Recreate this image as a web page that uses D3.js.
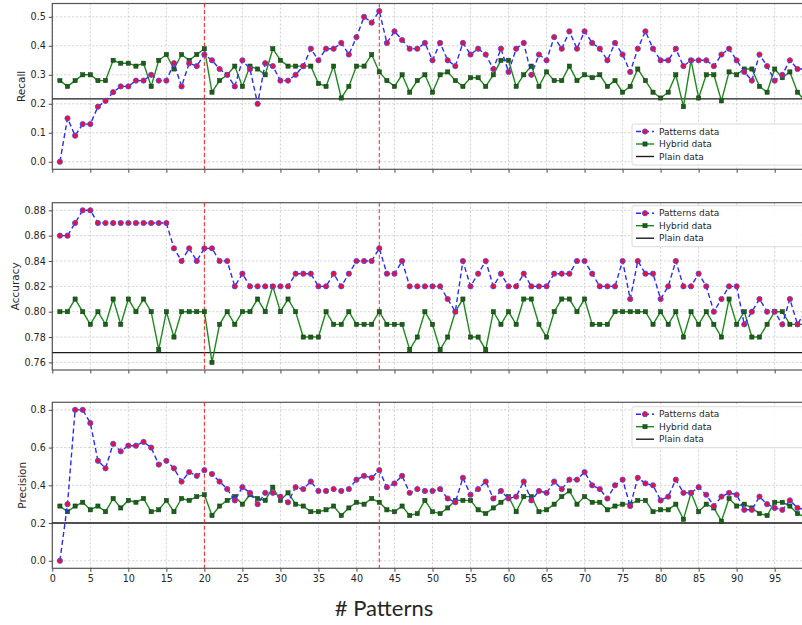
<!DOCTYPE html>
<html>
<head>
<meta charset="utf-8">
<script src="https://cdnjs.cloudflare.com/ajax/libs/d3/7.8.5/d3.min.js"></script>
<style>
  body { margin: 0; background: #fff; }
  svg text { font-family: "DejaVu Sans", sans-serif; fill: #262626; }
</style>
</head>
<body>
<div id="chart"></div>
<script>
// number of patterns on the x axis
var patterns = d3.range(1, 100);
var xTicks = d3.range(0, 100, 5);
var markerLines = [20, 43];
var seriesNames = ["Patterns data", "Hybrid data", "Plain data"];

// Recall
var recallPatterns = [0.00,0.15,0.09,0.13,0.13,0.19,0.21,0.24,0.26,0.26,
  0.28,0.28,0.30,0.28,0.28,0.34,0.26,0.34,0.33,0.37,
  0.35,0.32,0.30,0.26,0.35,0.32,0.20,0.34,0.33,0.28,
  0.28,0.30,0.33,0.39,0.35,0.39,0.39,0.41,0.37,0.43,
  0.50,0.48,0.52,0.41,0.45,0.42,0.39,0.39,0.41,0.35,
  0.41,0.35,0.33,0.41,0.37,0.39,0.37,0.32,0.39,0.31,
  0.39,0.41,0.30,0.37,0.35,0.43,0.39,0.45,0.39,0.45,
  0.41,0.39,0.35,0.41,0.37,0.31,0.39,0.45,0.39,0.35,
  0.35,0.39,0.33,0.35,0.35,0.35,0.33,0.37,0.39,0.35,
  0.31,0.28,0.37,0.33,0.28,0.30,0.35,0.32,0.32];
var recallHybrid = [0.28,0.26,0.28,0.30,0.30,0.28,0.28,0.35,0.34,0.34,
  0.33,0.34,0.26,0.35,0.37,0.32,0.37,0.35,0.37,0.39,
  0.24,0.28,0.30,0.33,0.26,0.33,0.32,0.30,0.39,0.35,
  0.33,0.33,0.33,0.33,0.27,0.26,0.33,0.22,0.26,0.33,
  0.33,0.37,0.31,0.28,0.26,0.30,0.24,0.28,0.30,0.24,
  0.30,0.31,0.28,0.26,0.29,0.29,0.26,0.30,0.35,0.35,
  0.26,0.30,0.33,0.26,0.31,0.28,0.28,0.33,0.28,0.30,
  0.29,0.30,0.26,0.28,0.24,0.26,0.32,0.28,0.24,0.22,
  0.24,0.30,0.19,0.35,0.22,0.30,0.30,0.21,0.31,0.30,
  0.32,0.32,0.26,0.24,0.32,0.29,0.31,0.24,0.21];
var recallPlain = 0.217;
var recallTicks = [0.0, 0.1, 0.2, 0.3, 0.4, 0.5];

// Accuracy
var accuracyPatterns = [0.86,0.86,0.87,0.88,0.88,0.87,0.87,0.87,0.87,0.87,
  0.87,0.87,0.87,0.87,0.87,0.85,0.84,0.85,0.84,0.85,
  0.85,0.84,0.84,0.82,0.83,0.82,0.82,0.82,0.82,0.82,
  0.82,0.83,0.83,0.83,0.82,0.82,0.83,0.82,0.83,0.84,
  0.84,0.84,0.85,0.83,0.83,0.84,0.82,0.82,0.82,0.82,
  0.82,0.81,0.80,0.84,0.82,0.83,0.84,0.82,0.83,0.82,
  0.82,0.83,0.82,0.82,0.82,0.83,0.83,0.83,0.84,0.84,
  0.83,0.82,0.82,0.82,0.84,0.81,0.84,0.83,0.83,0.81,
  0.82,0.84,0.82,0.82,0.83,0.82,0.80,0.81,0.82,0.82,
  0.79,0.80,0.81,0.80,0.80,0.79,0.81,0.79,0.80];
var accuracyHybrid = [0.80,0.80,0.81,0.80,0.79,0.80,0.79,0.81,0.79,0.81,
  0.80,0.81,0.80,0.77,0.80,0.78,0.80,0.80,0.80,0.80,
  0.76,0.79,0.80,0.79,0.80,0.80,0.81,0.80,0.82,0.80,
  0.81,0.80,0.78,0.78,0.78,0.80,0.79,0.79,0.80,0.79,
  0.79,0.79,0.80,0.79,0.79,0.79,0.77,0.78,0.80,0.79,
  0.77,0.78,0.80,0.81,0.78,0.78,0.77,0.80,0.79,0.80,
  0.79,0.81,0.81,0.79,0.78,0.80,0.81,0.81,0.80,0.81,
  0.79,0.79,0.79,0.80,0.80,0.80,0.80,0.80,0.79,0.80,
  0.79,0.80,0.78,0.80,0.79,0.80,0.79,0.78,0.81,0.79,
  0.80,0.78,0.78,0.79,0.80,0.80,0.79,0.79,0.79];
var accuracyPlain = 0.7677;
var accuracyTicks = [0.76, 0.78, 0.80, 0.82, 0.84, 0.86, 0.88];

// Precision
var precisionPatterns = [0.00,0.30,0.80,0.80,0.73,0.53,0.49,0.62,0.58,0.61,
  0.61,0.63,0.60,0.51,0.53,0.49,0.42,0.47,0.45,0.48,
  0.46,0.42,0.38,0.32,0.39,0.36,0.30,0.36,0.36,0.34,
  0.31,0.39,0.38,0.42,0.37,0.37,0.38,0.37,0.38,0.43,
  0.45,0.44,0.48,0.39,0.41,0.45,0.36,0.38,0.37,0.37,
  0.38,0.33,0.31,0.44,0.35,0.38,0.42,0.33,0.37,0.33,
  0.34,0.42,0.32,0.37,0.36,0.42,0.38,0.43,0.43,0.47,
  0.40,0.38,0.33,0.40,0.43,0.29,0.44,0.41,0.40,0.32,
  0.34,0.43,0.36,0.36,0.39,0.35,0.29,0.34,0.36,0.35,
  0.27,0.27,0.34,0.30,0.28,0.27,0.32,0.28,0.27];
var precisionHybrid = [0.29,0.26,0.29,0.31,0.27,0.29,0.26,0.33,0.28,0.32,
  0.31,0.33,0.26,0.27,0.32,0.26,0.33,0.32,0.34,0.35,
  0.24,0.29,0.32,0.34,0.30,0.35,0.33,0.32,0.39,0.32,
  0.36,0.30,0.29,0.26,0.26,0.27,0.29,0.24,0.28,0.31,
  0.30,0.33,0.31,0.27,0.26,0.29,0.24,0.25,0.32,0.26,
  0.25,0.28,0.32,0.32,0.32,0.27,0.25,0.28,0.31,0.34,
  0.26,0.34,0.34,0.26,0.27,0.30,0.34,0.37,0.30,0.34,
  0.31,0.31,0.27,0.29,0.30,0.30,0.32,0.32,0.26,0.27,
  0.27,0.30,0.22,0.36,0.26,0.30,0.28,0.21,0.33,0.29,
  0.30,0.28,0.25,0.24,0.31,0.31,0.29,0.25,0.23];
var precisionPlain = 0.20;
var precisionTicks = [0.0, 0.2, 0.4, 0.6, 0.8];

var svgWidth = 802;
var svgHeight = 625;
var left = 52.3;
var xScale = d3.scaleLinear().domain([0, 99]).range([left, left + 99 * 7.604]);

var svg = d3.select("#chart").append("svg")
  .attr("width", svgWidth)
  .attr("height", svgHeight);

// panel boxes (top, bottom) and y domains, matplotlib-like 5% margin
var panels = [
  { label: "Recall", top: 3.5, bottom: 169.3, domain: [-0.026, 0.546], ticks: recallTicks, fmt: ".1f",
    pat: recallPatterns, hyb: recallHybrid, plain: recallPlain, legendTop: 124, labelX: 21.5 },
  { label: "Accuracy", top: 202.7, bottom: 370, domain: [0.754, 0.886], ticks: accuracyTicks, fmt: ".2f",
    pat: accuracyPatterns, hyb: accuracyHybrid, plain: accuracyPlain, legendTop: 205.7, labelX: 15 },
  { label: "Precision", top: 402.3, bottom: 568.3, domain: [-0.04, 0.84], ticks: precisionTicks, fmt: ".1f",
    pat: precisionPatterns, hyb: precisionHybrid, plain: precisionPlain, legendTop: 406.7, labelX: 22 }
];

panels.forEach(function(p, k) {
  var y = d3.scaleLinear().domain(p.domain).range([p.bottom, p.top]);
  var g = svg.append("g");

  // grid
  g.selectAll(".gx").data(xTicks).enter().append("line")
    .attr("x1", d => xScale(d)).attr("x2", d => xScale(d))
    .attr("y1", p.top).attr("y2", p.bottom)
    .attr("stroke", "#c4c4c4").attr("stroke-width", 0.8).attr("stroke-dasharray", "2,2");
  g.selectAll(".gy").data(p.ticks).enter().append("line")
    .attr("x1", left).attr("x2", svgWidth)
    .attr("y1", d => y(d)).attr("y2", d => y(d))
    .attr("stroke", "#c4c4c4").attr("stroke-width", 0.8).attr("stroke-dasharray", "2,2");

  // axes
  var yAxis = d3.axisLeft(y).tickValues(p.ticks).tickFormat(d3.format(p.fmt)).tickSize(3.5).tickPadding(3);
  var ya = g.append("g").attr("transform", `translate(${left},0)`).call(yAxis);
  var xAxis = d3.axisBottom(xScale).tickValues(xTicks).tickSize(3.5).tickPadding(3);
  if (k < 2) xAxis.tickFormat("");
  var xa = g.append("g").attr("transform", `translate(0,${p.bottom})`).call(xAxis);
  [ya, xa].forEach(function(a) {
    a.select(".domain").remove();
    a.selectAll("line").attr("stroke", "#333").attr("stroke-width", 0.9);
    a.selectAll("text").style("font-size", "9.6px").style("font-family", "DejaVu Sans").attr("fill", "#333");
  });

  // frame
  g.append("rect")
    .attr("x", left).attr("y", p.top)
    .attr("width", svgWidth + 10 - left).attr("height", p.bottom - p.top)
    .attr("fill", "none").attr("stroke", "#555").attr("stroke-width", 1.2);

  // y label
  g.append("text")
    .attr("transform", `translate(${p.labelX},${(p.top + p.bottom) / 2}) rotate(-90)`)
    .attr("text-anchor", "middle").attr("dy", "0.35em")
    .style("font-size", "10.5px")
    .text(p.label);

  // plain data line
  g.append("line")
    .attr("x1", left).attr("x2", svgWidth)
    .attr("y1", y(p.plain)).attr("y2", y(p.plain))
    .attr("stroke", "#1a1a1a").attr("stroke-width", 1.4);

  // red dashed markers
  g.selectAll(".vl").data(markerLines).enter().append("line")
    .attr("x1", d => xScale(d)).attr("x2", d => xScale(d))
    .attr("y1", p.top).attr("y2", p.bottom)
    .attr("stroke", "#ff2020").attr("stroke-width", 1).attr("stroke-dasharray", "4,2.5");

  var line = d3.line().x((d, i) => xScale(patterns[i])).y(d => y(d));

  // hybrid series
  g.append("path").datum(p.hyb).attr("d", line)
    .attr("fill", "none").attr("stroke", "#1e8a1e").attr("stroke-width", 1.4);
  g.selectAll(".sq").data(p.hyb).enter().append("rect")
    .attr("x", (d, i) => xScale(patterns[i]) - 2.1).attr("y", d => y(d) - 2.1)
    .attr("width", 4.2).attr("height", 4.2)
    .attr("fill", "#1d5e1d").attr("stroke", "#0f3a0f").attr("stroke-width", 0.5);

  // patterns series
  g.append("path").datum(p.pat).attr("d", line)
    .attr("fill", "none").attr("stroke", "#2a2aff").attr("stroke-width", 1.4).attr("stroke-dasharray", "5,3");
  g.selectAll(".dot").data(p.pat).enter().append("circle")
    .attr("cx", (d, i) => xScale(patterns[i])).attr("cy", d => y(d))
    .attr("r", 2.6)
    .attr("fill", "#ee1030").attr("stroke", "#4a4aff").attr("stroke-width", 0.9);

  // legend
  var lg = g.append("g").attr("transform", `translate(632,${p.legendTop})`);
  lg.append("rect").attr("x", 0).attr("y", 0).attr("width", 180).attr("height", 41)
    .attr("rx", 2).attr("fill", "#fff").attr("fill-opacity", 0.9)
    .attr("stroke", "#d0d0d0").attr("stroke-width", 0.8);
  var rows = [7.5, 20, 32.5];
  lg.append("line").attr("x1", 4).attr("x2", 22).attr("y1", rows[0]).attr("y2", rows[0])
    .attr("stroke", "#2a2aff").attr("stroke-width", 1.4).attr("stroke-dasharray", "5,3");
  lg.append("circle").attr("cx", 13).attr("cy", rows[0]).attr("r", 2.6)
    .attr("fill", "#ee1030").attr("stroke", "#4a4aff").attr("stroke-width", 0.9);
  lg.append("line").attr("x1", 4).attr("x2", 22).attr("y1", rows[1]).attr("y2", rows[1])
    .attr("stroke", "#1e8a1e").attr("stroke-width", 1.4);
  lg.append("rect").attr("x", 13 - 2.1).attr("y", rows[1] - 2.1).attr("width", 4.2).attr("height", 4.2)
    .attr("fill", "#1d5e1d").attr("stroke", "#0f3a0f").attr("stroke-width", 0.5);
  lg.append("line").attr("x1", 4).attr("x2", 22).attr("y1", rows[2]).attr("y2", rows[2])
    .attr("stroke", "#1a1a1a").attr("stroke-width", 1.4);
  lg.selectAll(".lt").data(seriesNames).enter().append("text")
    .attr("x", 27).attr("y", (d, i) => rows[i]).attr("dy", "0.35em")
    .style("font-size", "9px")
    .text(d => d);
});

// x axis title
svg.append("text")
  .attr("x", 384).attr("y", 608).attr("dy", "0.35em")
  .attr("text-anchor", "middle")
  .style("font-family", "Lato, 'Open Sans', sans-serif")
  .style("font-size", "22px")
  .attr("fill", "#111")
  .text("# Patterns");
</script>
</body>
</html>
